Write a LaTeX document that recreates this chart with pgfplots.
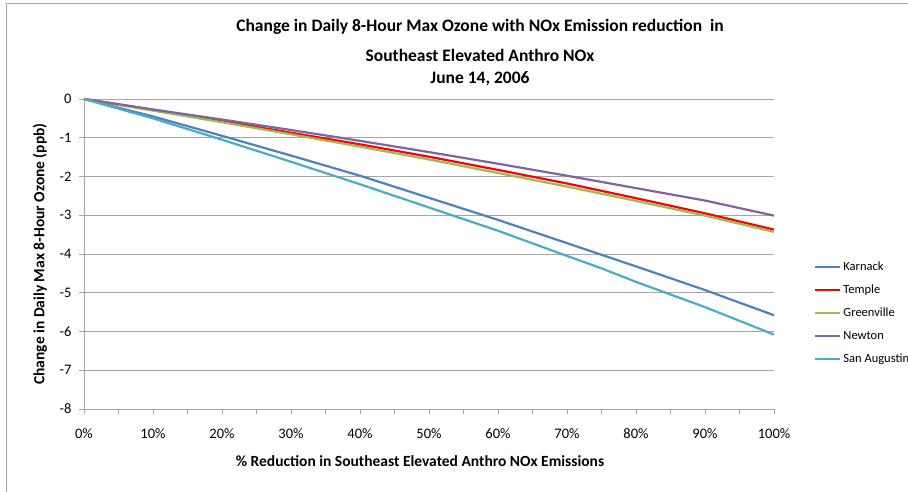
\documentclass[border=0pt]{standalone}
\usepackage{fontspec}
\setmainfont{Carlito}
\usepackage{pgfplots}
\pgfplotsset{compat=1.18}
\definecolor{cKar}{HTML}{4F81BD}
\definecolor{cTem}{HTML}{FF0000}
\definecolor{cGre}{HTML}{9BBB59}
\definecolor{cNew}{HTML}{8064A2}
\definecolor{cSan}{HTML}{4BACC6}
\definecolor{gridc}{HTML}{A6A6A6}
\begin{document}
\begin{tikzpicture}
\path[use as bounding box] (-84pt,-83pt) rectangle (824pt,409pt);
\draw[gridc,line width=1pt] (-77pt,-83pt) -- (-77pt,405pt) -- (824pt,405pt);
\begin{axis}[
  at={(0,0)}, anchor=south west,
  scale only axis, width=690pt, height=310pt,
  xmin=0, xmax=100, ymin=-8, ymax=0,
  xtick={0,10,...,100},
  minor xtick={5,15,...,95},
  xticklabel={\pgfmathprintnumber{\tick}\%},
  ytick={-8,-7,...,0},
  /pgf/number format/assume math mode=true,
  tick label style={font=\fontsize{14.5}{16}\selectfont},
  xticklabel style={yshift=-11pt},
  yticklabel style={xshift=-4pt},
  axis x line*=bottom, axis y line*=left,
  axis line style={gridc, line width=0.8pt},
  tick style={gridc, line width=0.8pt},
  major tick length=5pt, minor tick length=5pt,
  tick align=outside,
  ymajorgrids, grid style={gridc, line width=0.8pt},
  xlabel={\% Reduction in Southeast Elevated Anthro NOx Emissions},
  ylabel={Change in Daily Max 8-Hour Ozone (ppb)},
  label style={font=\fontsize{15.5}{17}\selectfont\bfseries},
  every axis x label/.append style={at={(336pt,-52pt)}, anchor=center},
  every axis y label/.append style={at={(-44pt,155pt)}, anchor=center},
  legend style={draw=none, at={(1.058,0.31)}, anchor=west,
    font=\fontsize{12.5}{14}\selectfont, row sep=9pt, inner sep=0pt},
  legend cell align=left,
  legend image code/.code={\draw[#1, line width=2.2pt] (0pt,0pt) -- (25pt,0pt);},
  every axis plot/.append style={line width=2.2pt},
  clip=false,
]
\addplot[cKar] coordinates {(0,0) (10,-0.45) (20,-0.95) (30,-1.46) (40,-1.98) (50,-2.55) (60,-3.12) (70,-3.72) (75,-4.02) (80,-4.32) (90,-4.93) (100,-5.58)};
\addplot[cTem] coordinates {(0,0) (10,-0.28) (20,-0.57) (30,-0.87) (40,-1.17) (50,-1.49) (60,-1.83) (70,-2.18) (80,-2.56) (90,-2.95) (100,-3.37)};
\addplot[cGre] coordinates {(0,0) (10,-0.30) (20,-0.60) (30,-0.91) (40,-1.23) (50,-1.56) (60,-1.91) (70,-2.26) (80,-2.63) (90,-3.01) (100,-3.43)};
\addplot[cNew] coordinates {(0,0) (10,-0.27) (20,-0.53) (30,-0.80) (40,-1.08) (50,-1.37) (60,-1.67) (70,-1.98) (80,-2.30) (90,-2.62) (100,-3.01)};
\addplot[cSan] coordinates {(0,0) (10,-0.50) (20,-1.05) (30,-1.62) (40,-2.20) (50,-2.80) (60,-3.40) (70,-4.05) (75,-4.37) (80,-4.72) (90,-5.37) (100,-6.08)};
\legend{Karnack,Temple,Greenville,Newton,San Augustin}
\node[font=\fontsize{17.5}{19}\selectfont\bfseries] at (396pt,382pt) {Change in Daily 8-Hour Max Ozone with NOx Emission reduction\ \ in};
\node[font=\fontsize{17.5}{19}\selectfont\bfseries] at (396pt,354pt) {Southeast Elevated Anthro NOx};
\node[font=\fontsize{17.5}{19}\selectfont\bfseries] at (396pt,330pt) {June 14, 2006};
\end{axis}
\end{tikzpicture}
\end{document}
